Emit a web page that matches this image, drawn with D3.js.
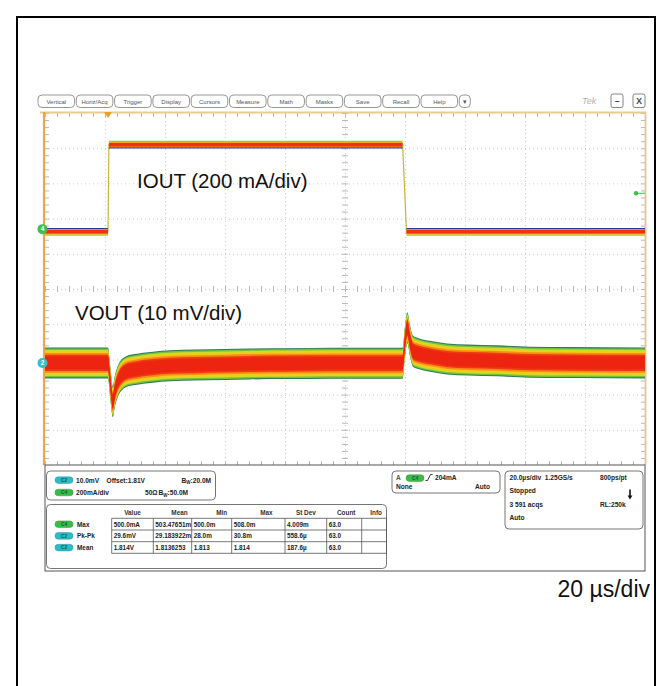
<!DOCTYPE html>
<html>
<head>
<meta charset="utf-8">
<script src="https://cdn.jsdelivr.net/npm/d3@7"></script>
<style>
  body { margin: 0; background: #fff; }
  svg { display: block; }
</style>
</head>
<body>
<svg id="chart" width="672" height="686"></svg>
<script>
// ---------------- data ----------------
// horizontal: 20 µs/div, 10 divisions
const timeDomain = [0, 200];            // µs
const gridTimes = d3.range(0, 201, 20); // µs, major divisions
const gridDivs = d3.range(-5, 6, 1);    // vertical divisions

// channel 4: load current IOUT (mA)
const iTime    = [0,   21.0, 21.3, 119.2, 120.5, 200];
const iCurrent = [-15, -15,  480,  480,   -15,   -15];
const triggerLevel = 204; // mA
const triggerTime = 21;   // µs

// channel 2: output voltage deviation from 1.814 V (mV)
const vTime = [0, 21.0, 21.7, 22.6, 23.3, 24.4, 25.7, 27.3, 30, 32.7, 36, 41.7, 50, 60, 68, 80, 95, 119.2,
               120.0, 120.8, 121.6, 122.7, 125, 128.3, 134, 141, 150.7, 161.7, 175, 200];
const vDev  = [0, 0, -5, -11, -8, -5, -3.3, -2.4, -1.9, -1.5, -1.2, -0.8, -0.6, -0.45, -0.3, -0.2, -0.1, -0.1,
               6, 10, 6.5, 3.3, 2.5, 1.9, 1.1, 0.8, 0.6, 0.2, 0.1, 0];
// persistence spread around the mean (mV), outer to inner
const vSpread = [4.4, 4.1, 3.7, 3.25, 2.8, 2.3];

// toolbar
const toolbarButtons = ["Vertical", "Horiz/Acq", "Trigger", "Display", "Cursors", "Measure",
                        "Math", "Masks", "Save", "Recall", "Help", "▾"];

// readouts
const chanReadouts = [
  { ch: "C2", parts: ["10.0mV", "Offset:1.81V", "BW:20.0M"] },
  { ch: "C4", parts: ["200mA/div", "50Ω", "BW:50.0M"] }
];
const measHeaders = ["Value", "Mean", "Min", "Max", "St Dev", "Count", "Info"];
const measRows = [
  { ch: "C4", name: "Max",   vals: ["500.0mA", "503.47651m", "500.0m", "508.0m", "4.009m", "63.0", ""] },
  { ch: "C2", name: "Pk-Pk", vals: ["29.6mV", "29.183922m", "28.0m", "30.8m", "558.6µ", "63.0", ""] },
  { ch: "C2", name: "Mean",  vals: ["1.814V", "1.8136253", "1.813", "1.814", "187.6µ", "63.0", ""] }
];
const horizReadout = ["20.0µs/div  1.25GS/s", "800ps/pt", "Stopped", "3 591 acqs", "RL:250k", "Auto"];
const trigReadout = ["A", "C4", "204mA", "None", "Auto"];

// ---------------- drawing ----------------
const FONT = "'Liberation Sans', Arial, Helvetica, sans-serif";
const chColor = { C2: "#2fbac8", C4: "#3dbb4a" };
const svg = d3.select("#chart");

// figure frame
svg.append("rect").attr("x", 17).attr("y", 17).attr("width", 638).attr("height", 720)
  .attr("fill", "none").attr("stroke", "#000").attr("stroke-width", 2);

const X0 = 45, X1 = 645, Y0 = 113, Y1 = 465;
const x = d3.scaleLinear().domain(timeDomain).range([X0, X1]);
const yDiv = d3.scaleLinear().domain([-5, 5]).range([Y1, Y0]);
const ch4Pos = 1.7, ch4Scale = 200;  // div, mA/div
const ch2Pos = -2.1, ch2Scale = 10;  // div, mV/div
const yI = v => yDiv(ch4Pos + v / ch4Scale);
const yV = v => yDiv(ch2Pos + v / ch2Scale);

// ---- toolbar ----
const tb = svg.append("g").attr("font-family", FONT);
let bx = 38;
toolbarButtons.forEach(b => {
  const w = b === "▾" ? 11 : 36.6;
  tb.append("rect").attr("x", bx).attr("y", 95).attr("width", w).attr("height", 12.5)
    .attr("rx", 4).attr("fill", "#fff").attr("stroke", "#8a8a8a").attr("stroke-width", 0.9);
  tb.append("text").attr("x", bx + w / 2).attr("y", 103.6).attr("text-anchor", "middle")
    .attr("font-size", b === "▾" ? 7 : 6).attr("fill", "#555").text(b);
  bx += w + 1.7;
});
tb.append("text").attr("x", 582).attr("y", 104).attr("font-size", 9).attr("font-style", "italic")
  .attr("fill", "#b0b0b0").text("Tek");
[[611, "–"], [633, "X"]].forEach(([bxx, s]) => {
  tb.append("rect").attr("x", bxx).attr("y", 94).attr("width", 12).attr("height", 13.5).attr("rx", 2)
    .attr("fill", "#fff").attr("stroke", "#777").attr("stroke-width", 0.9);
  tb.append("text").attr("x", bxx + 6).attr("y", 104).attr("text-anchor", "middle")
    .attr("font-size", 8.5).attr("font-weight", "bold").attr("fill", "#444").text(s);
});

// ---- graticule ----
const grat = svg.append("g");
// dotted division lines
grat.append("g").attr("transform", `translate(0,${Y0})`)
  .call(d3.axisBottom(x).tickValues(gridTimes.slice(1, -1)).tickSize(Y1 - Y0).tickFormat(""))
  .call(g => g.select(".domain").remove())
  .selectAll("line").attr("stroke", "#c9c9c9").attr("stroke-dasharray", "1,3");
grat.append("g").attr("transform", `translate(${X0},0)`)
  .call(d3.axisRight(yDiv).tickValues(gridDivs.slice(1, -1)).tickSize(X1 - X0).tickFormat(""))
  .call(g => g.select(".domain").remove())
  .selectAll("line").attr("stroke", "#c9c9c9").attr("stroke-dasharray", "1,3");
// minor ticks on the edges and on the centre cross
const minorT = d3.range(0, 201, 4);
const minorD = d3.range(-5, 5.01, 0.2);
const tickStyle = g => { g.select(".domain").remove(); g.selectAll("line").attr("stroke", "#b8b8b8"); };
grat.append("g").attr("transform", `translate(0,${Y0})`).call(d3.axisBottom(x).tickValues(minorT).tickSize(4).tickFormat("")).call(tickStyle);
grat.append("g").attr("transform", `translate(0,${Y1})`).call(d3.axisTop(x).tickValues(minorT).tickSize(4).tickFormat("")).call(tickStyle);
grat.append("g").attr("transform", `translate(0,${yDiv(0)})`).call(d3.axisTop(x).tickValues(minorT).tickSize(3).tickFormat("")).call(tickStyle);
grat.append("g").attr("transform", `translate(0,${yDiv(0)})`).call(d3.axisBottom(x).tickValues(minorT).tickSize(3).tickFormat("")).call(tickStyle);
grat.append("g").attr("transform", `translate(${X0},0)`).call(d3.axisRight(yDiv).tickValues(minorD).tickSize(4).tickFormat("")).call(tickStyle);
grat.append("g").attr("transform", `translate(${X1},0)`).call(d3.axisLeft(yDiv).tickValues(minorD).tickSize(4).tickFormat("")).call(tickStyle);
grat.append("g").attr("transform", `translate(${x(100)},0)`).call(d3.axisLeft(yDiv).tickValues(minorD).tickSize(3).tickFormat("")).call(tickStyle);
grat.append("g").attr("transform", `translate(${x(100)},0)`).call(d3.axisRight(yDiv).tickValues(minorD).tickSize(3).tickFormat("")).call(tickStyle);

// frame of the waveform area
grat.append("line").attr("x1", X0 - 5).attr("x2", X1 + 1).attr("y1", Y0 - 0.5).attr("y2", Y0 - 0.5)
  .attr("stroke", "#ecc98e").attr("stroke-width", 1.8);
grat.append("line").attr("x1", X1 + 0.5).attr("x2", X1 + 0.5).attr("y1", Y0 - 1).attr("y2", Y1)
  .attr("stroke", "#e6c48c").attr("stroke-width", 1.8);
grat.append("line").attr("x1", X0 - 1).attr("x2", X0 - 1).attr("y1", Y0 - 1).attr("y2", Y1)
  .attr("stroke", "#f1a54a").attr("stroke-width", 2.2);

// trigger position marker
grat.append("path")
  .attr("d", `M${x(triggerTime) - 4},${Y0 - 1}L${x(triggerTime) + 4},${Y0 - 1}L${x(triggerTime)},${Y0 + 5}Z`)
  .attr("fill", "#e9a321");

// ---- VOUT persistence band ----
const vPts = vTime.map((t, i) => ({ t, v: vDev[i] }));
const bandColors = ["#2f7a5c", "#74c23a", "#cfdc25", "#f6c81c", "#f88d14", "#ee3a12"];
vSpread.forEach((s, i) => {
  const area = d3.area().curve(d3.curveMonotoneX)
    .x(d => x(d.t)).y0(d => yV(d.v - s)).y1(d => yV(d.v + s));
  svg.append("path").attr("d", area(vPts)).attr("fill", bandColors[i]);
});
// core of the band
svg.append("path").attr("d", d3.area().curve(d3.curveMonotoneX)
    .x(d => x(d.t)).y0(d => yV(d.v - 1.8)).y1(d => yV(d.v + 1.8))(vPts))
  .attr("fill", "#ec2410");

// ---- IOUT trace ----
const iPts = iTime.map((t, i) => ({ t, v: iCurrent[i] }));
const iLine = d3.line().x(d => x(d.t)).y(d => yI(d.v));
svg.append("path").attr("d", iLine(iPts)).attr("fill", "none")
  .attr("stroke", "#c9b43a").attr("stroke-width", 1.2);
const iMid = (d3.max(iCurrent) + d3.min(iCurrent)) / 2;
d3.pairs(iPts).filter(([a, b]) => a.v === b.v).forEach(([a, b]) => {
  const y = yI(a.v), inward = a.v > iMid ? 1 : -1;
  const xa = x(a.t), xb = x(b.t);
  const seg = (dy, w, c) => svg.append("line").attr("x1", xa).attr("x2", xb)
    .attr("y1", y + dy).attr("y2", y + dy).attr("stroke", c).attr("stroke-width", w);
  seg(-inward * 3.2, 1.6, "#9cc93a");
  seg(-inward * 2.0, 1.2, "#e8d42a");
  seg(0, 5, "#f39a1c");
  seg(0, 3.6, "#ee3312");
  seg(inward * 3.2, 1.3, "#2b3f8c");
});

// channel markers
[[yI(0), "#3fc04c", "4"], [yV(0), "#33bfcc", "2"]].forEach(([cy, c, s]) => {
  svg.append("path").attr("d", `M${X0 - 1},${cy - 2.5}L${X0 + 3},${cy}L${X0 - 1},${cy + 2.5}Z`).attr("fill", c);
  svg.append("circle").attr("cx", X0 - 2.5).attr("cy", cy).attr("r", 5).attr("fill", c);
  svg.append("text").attr("x", X0 - 2.5).attr("y", cy + 2.3).attr("text-anchor", "middle")
    .attr("font-family", FONT).attr("font-size", 6.5).attr("font-weight", "bold").attr("fill", "#fff").text(s);
});
// trigger level marker
svg.append("line").attr("x1", X1 - 9).attr("x2", X1).attr("y1", yI(triggerLevel)).attr("y2", yI(triggerLevel))
  .attr("stroke", "#3fc04c").attr("stroke-width", 1);
svg.append("circle").attr("cx", X1 - 9).attr("cy", yI(triggerLevel)).attr("r", 2.2).attr("fill", "#3fc04c");

// annotations
svg.append("text").attr("x", 137).attr("y", 188).attr("font-family", FONT).attr("font-size", 20.5)
  .attr("fill", "#111").text("IOUT (200 mA/div)");
svg.append("text").attr("x", 75).attr("y", 320).attr("font-family", FONT).attr("font-size", 20.5)
  .attr("fill", "#111").text("VOUT (10 mV/div)");
svg.append("text").attr("x", 650).attr("y", 597).attr("text-anchor", "end").attr("font-family", FONT)
  .attr("font-size", 23).attr("fill", "#111").text("20 µs/div");

// ---- readout panel ----
const panel = svg.append("g").attr("font-family", FONT).attr("font-weight", "bold").attr("fill", "#222");
panel.append("rect").attr("x", X0).attr("y", Y1).attr("width", X1 - X0).attr("height", 106)
  .attr("fill", "#fff").attr("stroke", "#555").attr("stroke-width", 1);
const pill = (px, py, ch) => {
  panel.append("rect").attr("x", px).attr("y", py).attr("width", 18).attr("height", 6.6)
    .attr("rx", 3.3).attr("fill", chColor[ch]).attr("stroke", d3.color(chColor[ch]).darker(0.6)).attr("stroke-width", 0.5);
  panel.append("text").attr("x", px + 9).attr("y", py + 5.1).attr("text-anchor", "middle")
    .attr("font-size", 4.8).attr("fill", "#0d5a40").text(ch);
};
// channel settings box
panel.append("rect").attr("x", 46.5).attr("y", 471).attr("width", 169).attr("height", 29).attr("rx", 4)
  .attr("fill", "#fff").attr("stroke", "#666").attr("stroke-width", 0.9);
const chPartX = [[76, 106.5, 181.5], [76, 145, 158.5]];
chanReadouts.forEach((r, i) => {
  const py = 476.8 + i * 12.4;
  pill(55, py, r.ch);
  r.parts.forEach((p, j) => {
    const t = panel.append("text").attr("x", chPartX[i][j]).attr("y", py + 5.8).attr("font-size", 6.6);
    if (p.startsWith("BW")) {
      t.append("tspan").text("B");
      t.append("tspan").attr("font-size", 4.5).attr("dy", 1.5).text("W");
      t.append("tspan").attr("dy", -1.5).text(p.slice(2));
    } else t.text(p);
  });
});
// measurement table
panel.append("rect").attr("x", 46.5).attr("y", 504.5).attr("width", 340).attr("height", 64).attr("rx", 4)
  .attr("fill", "#fff").attr("stroke", "#666").attr("stroke-width", 0.9);
const colEdges = [111.7, 153.3, 191.7, 231.7, 285, 326.7, 361.7, 386.5];
const headShift = [0, 7, 10, 8, 0, 2, 2];
const rowEdges = [518.3, 530, 541.7, 553.3];
measHeaders.forEach((h, j) => {
  panel.append("text").attr("x", (colEdges[j] + colEdges[j + 1]) / 2 + headShift[j]).attr("y", 515)
    .attr("text-anchor", "middle").attr("font-size", 6.4).attr("fill", "#333").text(h);
});
rowEdges.forEach(ry => panel.append("line").attr("x1", colEdges[0]).attr("x2", colEdges[7])
  .attr("y1", ry).attr("y2", ry).attr("stroke", "#555").attr("stroke-width", 0.8));
colEdges.forEach(cx => panel.append("line").attr("x1", cx).attr("x2", cx)
  .attr("y1", rowEdges[0]).attr("y2", rowEdges[3]).attr("stroke", "#555").attr("stroke-width", 0.8));
measRows.forEach((r, i) => {
  const top = rowEdges[i];
  pill(55, top + 2.6, r.ch);
  panel.append("text").attr("x", 77).attr("y", top + 8.4).attr("font-size", 6.4).text(r.name);
  r.vals.forEach((v, j) => {
    panel.append("text").attr("x", colEdges[j] + 2).attr("y", top + 8.4).attr("font-size", 6.4).text(v);
  });
});
// trigger box
panel.append("rect").attr("x", 392).attr("y", 471).attr("width", 108).attr("height", 22).attr("rx", 4)
  .attr("fill", "#fff").attr("stroke", "#666").attr("stroke-width", 0.9);
panel.append("text").attr("x", 396).attr("y", 480).attr("font-size", 6.6).attr("fill", "#555").text(trigReadout[0]);
pill(406, 474.8, trigReadout[1]);
panel.append("path").attr("d", "M425.5,480.5h2l3,-6h2").attr("fill", "none").attr("stroke", "#222").attr("stroke-width", 0.9);
panel.append("text").attr("x", 435).attr("y", 480).attr("font-size", 6.6).text(trigReadout[2]);
panel.append("text").attr("x", 396).attr("y", 489).attr("font-size", 6.6).text(trigReadout[3]);
panel.append("text").attr("x", 490).attr("y", 489).attr("text-anchor", "end").attr("font-size", 6.6).text(trigReadout[4]);
// horizontal / acquisition box
panel.append("rect").attr("x", 505).attr("y", 471).attr("width", 138).attr("height", 58).attr("rx", 4)
  .attr("fill", "#fff").attr("stroke", "#666").attr("stroke-width", 0.9);
panel.append("text").attr("x", 509.5).attr("y", 480).attr("font-size", 6.6).attr("xml:space", "preserve").text(horizReadout[0]);
panel.append("text").attr("x", 600).attr("y", 480).attr("font-size", 6.6).text(horizReadout[1]);
panel.append("text").attr("x", 509.5).attr("y", 493.3).attr("font-size", 6.6).text(horizReadout[2]);
panel.append("text").attr("x", 509.5).attr("y", 506.7).attr("font-size", 6.6).text(horizReadout[3]);
panel.append("text").attr("x", 600).attr("y", 506.7).attr("font-size", 6.6).text(horizReadout[4]);
panel.append("text").attr("x", 509.5).attr("y", 520).attr("font-size", 6.6).text(horizReadout[5]);
panel.append("path").attr("d", "M630,489.5V496").attr("stroke", "#111").attr("stroke-width", 1.6);
panel.append("path").attr("d", "M627.6,495.5L632.4,495.5L630,499.5Z").attr("fill", "#111");
</script>
</body>
</html>
